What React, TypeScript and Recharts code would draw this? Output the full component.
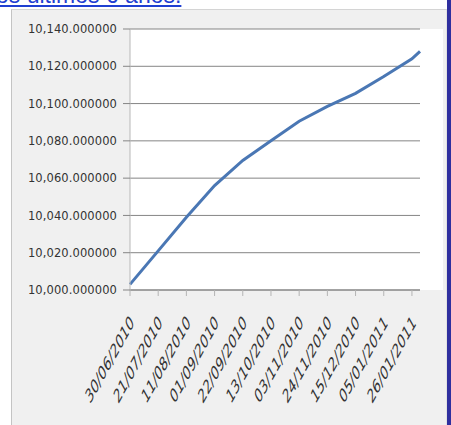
import React from "react";
import { LineChart, Line, XAxis, YAxis, CartesianGrid } from "recharts";

// dates on the series (dd/mm/yyyy) and the quote
const dates = [
    "30/06/2010", "21/07/2010", "11/08/2010", "01/09/2010", "22/09/2010", "13/10/2010",
    "03/11/2010", "24/11/2010", "15/12/2010", "05/01/2011", "26/01/2011", "01/02/2011",
];
const values = [
    10003, 10021, 10039, 10056, 10069.5, 10080,
    10090.5, 10098.5, 10105.5, 10114.5, 10124, 10128,
];
const tickDates = [
    "30/06/2010", "21/07/2010", "11/08/2010", "01/09/2010", "22/09/2010", "13/10/2010",
    "03/11/2010", "24/11/2010", "15/12/2010", "05/01/2011", "26/01/2011",
];
const yTicks = [10000, 10020, 10040, 10060, 10080, 10100, 10120, 10140];

const toDay = (s: string) => {
    const [d, m, y] = s.split("/").map(Number);
    return Date.UTC(y, m - 1, d) / 86400000;
};

const data = dates.map((d, i) => ({ t: toDay(d), v: values[i] }));
const xTicks = tickDates.map(toDay);
const labelOf: Record<number, string> = {};
tickDates.forEach((d) => (labelOf[toDay(d)] = d));

const fmtY = (n: number) =>
    n.toLocaleString("en-US", { minimumFractionDigits: 6, maximumFractionDigits: 6 });

const FONT = "'DejaVu Sans', sans-serif";

const XTick = ({ x, y, payload }: any) => (
    <g transform={`translate(${x},${y})`}>
        <text
            transform="translate(2,23) scale(1,1.8) rotate(-45)"
            textAnchor="end"
            dy="0.35em"
            fontFamily={FONT}
            fontSize={11}
            fill="#333333"
        >
            {labelOf[payload.value]}
        </text>
    </g>
);

export default function App() {
    return (
        <div
            style={{
                position: "absolute",
                left: 0,
                top: 0,
                width: 451,
                height: 425,
                overflow: "hidden",
                background: "#ffffff",
            }}
        >
            <div
                style={{
                    position: "absolute",
                    left: -4,
                    top: -18,
                    fontFamily: "Arial, 'Liberation Sans', sans-serif",
                    fontSize: 23,
                    color: "#1f3fd1",
                    textDecoration: "underline",
                    whiteSpace: "nowrap",
                }}
            >
                os últimos 6 anos:
            </div>
            {/* chart frame */}
            <div
                style={{
                    position: "absolute",
                    left: 11,
                    top: 9,
                    width: 434,
                    height: 430,
                    background: "#f0f0f0",
                    borderLeft: "1px solid #c4c4c4",
                    borderTop: "1px solid #d4d4d4",
                    borderRight: "2px solid #e2e2e2",
                }}
            />
            <div
                style={{
                    position: "absolute",
                    left: 130,
                    top: 29,
                    width: 313,
                    height: 261,
                    background: "#ffffff",
                }}
            />
            <div
                style={{
                    position: "absolute",
                    left: 447,
                    top: 0,
                    width: 4,
                    height: 425,
                    background: "#2f2f9f",
                }}
            />
            <div style={{ position: "absolute", left: 0, top: 0 }}>
                <LineChart
                    width={451}
                    height={425}
                    data={data}
                    margin={{ top: 29, right: 31, bottom: 0, left: 0 }}
                >
                    <CartesianGrid vertical={false} stroke="#858585" />
                    <XAxis
                        type="number"
                        dataKey="t"
                        domain={[data[0].t, data[data.length - 1].t]}
                        ticks={xTicks}
                        interval={0}
                        height={135}
                        tickSize={6}
                        tickMargin={0}
                        axisLine={{ stroke: "#858585" }}
                        tickLine={{ stroke: "#b4b4b4" }}
                        tick={<XTick />}
                    />
                    <YAxis
                        type="number"
                        domain={[10000, 10140]}
                        ticks={yTicks}
                        interval={0}
                        width={130}
                        tickSize={7}
                        tickMargin={6}
                        tickFormatter={fmtY}
                        axisLine={{ stroke: "#b8b8b8" }}
                        tickLine={{ stroke: "#858585" }}
                        tick={{
                            fontFamily: FONT,
                            fontSize: 11.5,
                            fill: "#333333",
                            letterSpacing: 0.1,
                        }}
                    />
                    <Line
                        type="linear"
                        dataKey="v"
                        stroke="#4a77b4"
                        strokeWidth={3}
                        dot={false}
                        isAnimationActive={false}
                    />
                </LineChart>
            </div>
        </div>
    );
}
